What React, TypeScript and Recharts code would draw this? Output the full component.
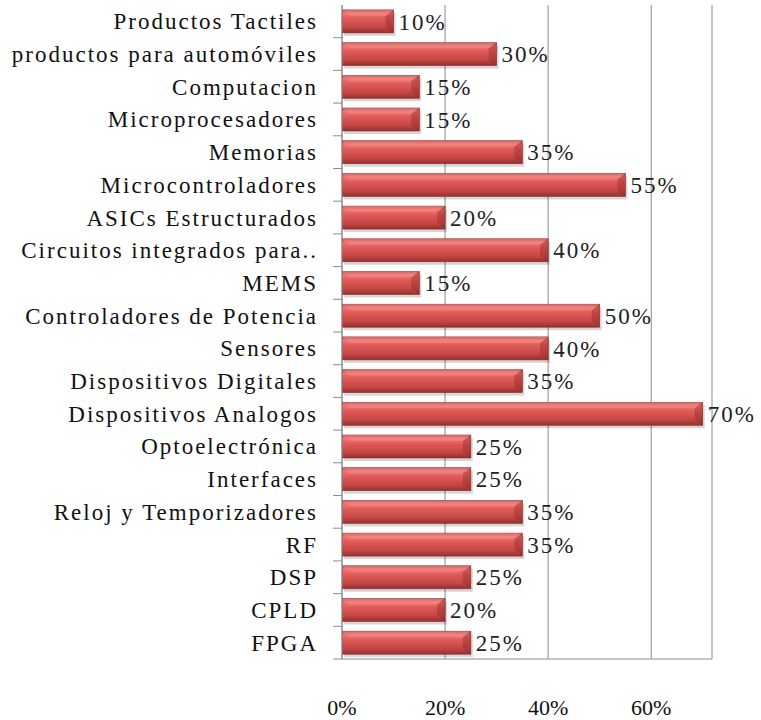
import { BarChart, Bar, XAxis, YAxis, CartesianGrid, LabelList } from "recharts";

const categories = [
  "Productos Tactiles",
  "productos para  automóviles",
  "Computacion",
  "Microprocesadores",
  "Memorias",
  "Microcontroladores",
  "ASICs Estructurados",
  "Circuitos integrados para..",
  "MEMS",
  "Controladores de Potencia",
  "Sensores",
  "Dispositivos Digitales",
  "Dispositivos Analogos",
  "Optoelectrónica",
  "Interfaces",
  "Reloj y Temporizadores",
  "RF",
  "DSP",
  "CPLD",
  "FPGA",
];
const values = [0.1, 0.3, 0.15, 0.15, 0.35, 0.55, 0.2, 0.4, 0.15, 0.5, 0.4, 0.35, 0.7, 0.25, 0.25, 0.35, 0.35, 0.25, 0.2, 0.25];
const xTicks = [0, 0.2, 0.4, 0.6];

const data = categories.map((name, i) => ({ name, value: values[i] }));

const FONT = "'Liberation Serif', 'Times New Roman', serif";
const BAND = 654 / categories.length;

function pct(v: number) {
  return `${Math.round(v * 100)}%`;
}

function BevelBar(props: any) {
  const { x, y, width, height } = props;
  if (!width || width <= 0) return null;
  return (
    <g>
      <rect x={x + 2} y={y + 3} width={width} height={height} fill="#000" opacity={0.16} />
      <rect x={x} y={y} width={width} height={height} fill="url(#barGrad)" stroke="#8e2f2d" strokeWidth={0.6} />
      <polygon
        points={`${x},${y} ${x + width},${y} ${x + width - 8},${y + 6} ${x + 8},${y + 6}`}
        fill="#f49290"
        opacity={0.45}
      />
      <polygon
        points={`${x + width},${y} ${x + width},${y + height} ${x + width - 8},${y + height - 6} ${x + width - 8},${y + 6}`}
        fill="#8c2a28"
        opacity={0.4}
      />
    </g>
  );
}

function CategoryTick(props: any) {
  const { x, y, payload } = props;
  return (
    <g>
      <line x1={x + 13} x2={x + 22} y1={y + BAND / 2} y2={y + BAND / 2} stroke="#8c8c8c" />
      <text x={x - 2} y={y} dy={8} textAnchor="end" fontFamily={FONT} fontSize={23} letterSpacing={2} fill="#111">
        {payload.value}
      </text>
    </g>
  );
}

function ValueTick(props: any) {
  const { x, y, payload } = props;
  return (
    <text x={x} y={y + 40} dy={8} textAnchor="middle" fontFamily={FONT} fontSize={22} fill="#111">
      {pct(payload.value)}
    </text>
  );
}

export default function App() {
  return (
    <div style={{ position: "absolute", left: 0, top: 0, background: "#fff" }}>
      <BarChart
        width={761}
        height={720}
        data={data}
        layout="vertical"
        barCategoryGap="15%"
        margin={{ top: 5, right: 49, left: 0, bottom: 31 }}
      >
        <defs>
          <linearGradient id="barGrad" x1="0" y1="0" x2="0" y2="1">
            <stop offset="0" stopColor="#b54644" />
            <stop offset="0.15" stopColor="#f07572" />
            <stop offset="0.4" stopColor="#de5956" />
            <stop offset="0.75" stopColor="#c44744" />
            <stop offset="1" stopColor="#923130" />
          </linearGradient>
        </defs>
        <CartesianGrid horizontal={false} stroke="#8c8c8c" strokeWidth={1} />
        <XAxis
          type="number"
          domain={[0, 0.718]}
          ticks={xTicks}
          tickLine={false}
          axisLine={{ stroke: "#8c8c8c" }}
          tick={<ValueTick />}
          allowDataOverflow
        />
        <YAxis
          type="category"
          dataKey="name"
          width={342}
          tickLine={false}
          tickMargin={16}
          axisLine={{ stroke: "#8c8c8c" }}
          tick={<CategoryTick />}
          interval={0}
        />
        <Bar dataKey="value" shape={<BevelBar />} isAnimationActive={false}>
          <LabelList
            dataKey="value"
            position="right"
            offset={5}
            formatter={(v: any) => pct(Number(v))}
            style={{ fontFamily: FONT, fontSize: 23, fill: "#222", letterSpacing: 2 }}
          />
        </Bar>
      </BarChart>
    </div>
  );
}
